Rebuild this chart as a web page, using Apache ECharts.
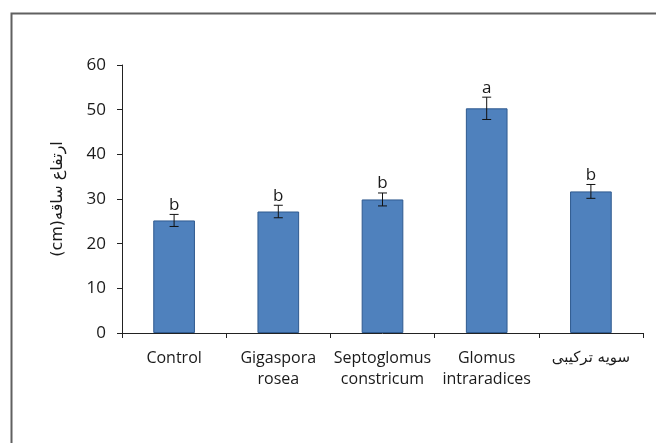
<!DOCTYPE html>
<html>
<head>
<meta charset="utf-8">
<script src="https://cdn.jsdelivr.net/npm/echarts@6/dist/echarts.min.js"></script>
<style>
  html, body { margin: 0; padding: 0; background: #fff; }
  #chart { width: 656px; height: 443px; }
</style>
</head>
<body>
<div id="chart"></div>
<script>
// داده‌ها
const categories = ['Control', 'Gigaspora\nrosea', 'Septoglomus\nconstricum', 'Glomus\nintraradices', 'سویه ترکیبی'];
const heights = [25.2, 27.2, 29.9, 50.3, 31.7];
const errors = [1.35, 1.4, 1.45, 2.5, 1.55];
const letters = ['b', 'b', 'b', 'a', 'b'];
const yTicks = [0, 10, 20, 30, 40, 50, 60];

const chart = echarts.init(document.getElementById('chart'));

const errData = heights.map((h, i) => [i, h, errors[i], letters[i]]);

const option = {
  animation: false,
  backgroundColor: '#fff',
  grid: { left: 122, right: 13, top: 65, bottom: 110 },
  graphic: [
    {
      // chart border (only top and left visible in picture)
      type: 'rect',
      left: 9, top: 11,
      shape: { width: 700, height: 500 },
      style: { fill: 'none', stroke: '#606060', lineWidth: 2 },
      z: 0
    }
  ],
  xAxis: {
    type: 'category',
    data: categories,
    axisLine: { lineStyle: { color: '#222', width: 1 } },
    axisTick: { show: true, length: 5, lineStyle: { color: '#222' } },
    axisLabel: {
      color: '#1a1a1a', fontSize: 16, fontFamily: 'Open Sans, DejaVu Sans',
      margin: 15, lineHeight: 21, interval: 0,
      formatter: function (v) {
        // the persian label is drawn with DejaVu, which is wider
        return /[\u0600-\u06FF]/.test(v) ? '{fa|' + v + '}' : v;
      },
      rich: {
        fa: { fontSize: 15, fontFamily: 'DejaVu Sans', color: '#1a1a1a', lineHeight: 21 }
      }
    }
  },
  yAxis: {
    type: 'value',
    min: yTicks[0], max: yTicks[yTicks.length - 1], interval: 10,
    name: '(cm)ارتفاع ساقه',
    nameLocation: 'middle',
    nameGap: 56,
    nameRotate: 90,
    nameTextStyle: { color: '#1a1a1a', fontSize: 16, fontFamily: 'DejaVu Sans' },
    axisLine: { show: true, lineStyle: { color: '#222', width: 1 } },
    axisTick: { show: true, length: 5, lineStyle: { color: '#222' } },
    axisLabel: { color: '#1a1a1a', fontSize: 17, fontFamily: 'Open Sans, DejaVu Sans', margin: 16 },
    splitLine: { show: false }
  },
  series: [
    {
      type: 'bar',
      data: heights,
      barWidth: '40%',
      itemStyle: { color: '#4f81bd', borderColor: '#2f5a8f', borderWidth: 1 },
      z: 2
    },
    {
      type: 'custom',
      data: errData,
      z: 3,
      renderItem: function (params, api) {
        const i = api.value(0), h = api.value(1), e = api.value(2);
        const top = api.coord([i, h + e]);
        const bot = api.coord([i, h - e]);
        const w = 4.5;
        const st = { stroke: '#111', lineWidth: 1 };
        return {
          type: 'group',
          children: [
            { type: 'line', shape: { x1: top[0], y1: top[1], x2: bot[0], y2: bot[1] }, style: st },
            { type: 'line', shape: { x1: top[0] - w, y1: top[1], x2: top[0] + w, y2: top[1] }, style: st },
            { type: 'line', shape: { x1: bot[0] - w, y1: bot[1], x2: bot[0] + w, y2: bot[1] }, style: st },
            {
              type: 'text',
              style: {
                text: letters[params.dataIndex],
                x: top[0], y: top[1] - 1,
                align: 'center', verticalAlign: 'bottom',
                fill: '#1a1a1a', fontSize: 17, fontFamily: 'Open Sans, DejaVu Sans'
              }
            }
          ]
        };
      }
    }
  ]
};

chart.setOption(option);
</script>
</body>
</html>
